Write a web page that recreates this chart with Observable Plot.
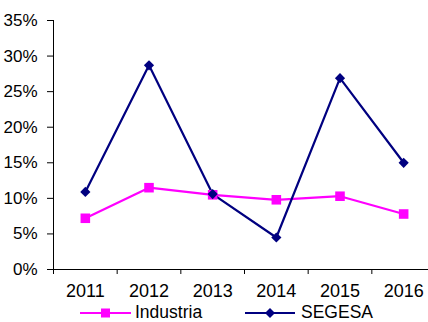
<!DOCTYPE html>
<html>
<head>
<meta charset="utf-8">
<script src="https://cdn.jsdelivr.net/npm/d3@7"></script>
<script src="https://cdn.jsdelivr.net/npm/@observablehq/plot@0.6"></script>
<style>
  html, body { margin: 0; padding: 0; background: #fff; }
  #chart { width: 428px; height: 322px; overflow: hidden; font-family: "Liberation Sans Narrow", "Liberation Sans", Arial, sans-serif; }
  #legend { display: block; }
</style>
</head>
<body>
<div id="chart"></div>
<script>
const years = [2011, 2012, 2013, 2014, 2015, 2016];
const industria = [0.072, 0.115, 0.105, 0.098, 0.103, 0.078];
const segesa = [0.109, 0.287, 0.106, 0.045, 0.269, 0.150];
const seriesNames = ["Industria", "SEGESA"];
const seriesColors = ["#FF00FF", "#000080"];
const yTicks = [0, 0.05, 0.10, 0.15, 0.20, 0.25, 0.30, 0.35];

const data = [
  ...years.map((y, i) => ({year: y, value: industria[i], series: "Industria"})),
  ...years.map((y, i) => ({year: y, value: segesa[i], series: "SEGESA"}))
];
const boundaries = years.map(y => y - 0.5);
const FONT = "Liberation Sans Narrow, Liberation Sans, Arial, sans-serif";

const chart = Plot.plot({
  width: 428,
  height: 292,
  marginLeft: 53,
  marginRight: -7,
  marginTop: 20,
  marginBottom: 23,
  style: {fontFamily: FONT, fontSize: "17px", color: "#000", background: "#fff", overflow: "visible"},
  x: {type: "linear", domain: [2010.5, 2016.5]},
  y: {domain: [0, 0.35]},
  color: {domain: seriesNames, range: seriesColors},
  marks: [
    Plot.axisY({ticks: yTicks, tickFormat: d3.format(".0%"), tickSize: 6, tickPadding: 10, label: null, fontSize: 17}),
    Plot.axisX({ticks: boundaries, tickFormat: () => "", tickSize: 5, label: null}),
    Plot.axisX({ticks: years, tickFormat: d => String(d), tickSize: 0, tickPadding: 15, label: null, fontSize: 18}),
    Plot.ruleY([0], {stroke: "#000", strokeWidth: 1}),
    Plot.ruleX([2010.5], {stroke: "#000", strokeWidth: 1}),
    Plot.line(data, {x: "year", y: "value", stroke: "series", strokeWidth: 2.2}),
    Plot.dot(data.filter(d => d.series === "Industria"), {x: "year", y: "value", symbol: "square", r: 5.4, fill: "series", stroke: null}),
    Plot.dot(data.filter(d => d.series === "SEGESA"), {x: "year", y: "value", symbol: "diamond2", r: 4.6, fill: "series", stroke: null})
  ]
});
document.getElementById("chart").appendChild(chart);

// Legend below the plot
const ns = "http://www.w3.org/2000/svg";
const leg = document.createElementNS(ns, "svg");
leg.setAttribute("id", "legend");
leg.setAttribute("width", 428);
leg.setAttribute("height", 30);
leg.style.fontFamily = FONT;
const legItems = [
  {name: seriesNames[0], color: seriesColors[0], x0: 80, x1: 131, tx: 135, shape: "square"},
  {name: seriesNames[1], color: seriesColors[1], x0: 245, x1: 295, tx: 301, shape: "diamond"}
];
const cy = 21;
legItems.forEach(it => {
  const ln = document.createElementNS(ns, "line");
  ln.setAttribute("x1", it.x0); ln.setAttribute("x2", it.x1);
  ln.setAttribute("y1", cy); ln.setAttribute("y2", cy);
  ln.setAttribute("stroke", it.color); ln.setAttribute("stroke-width", 2.2);
  leg.appendChild(ln);
  const cx = (it.x0 + it.x1) / 2;
  if (it.shape === "square") {
    const r = document.createElementNS(ns, "rect");
    r.setAttribute("x", cx - 4.5); r.setAttribute("y", cy - 4.5);
    r.setAttribute("width", 9); r.setAttribute("height", 9);
    r.setAttribute("fill", it.color);
    leg.appendChild(r);
  } else {
    const p = document.createElementNS(ns, "polygon");
    p.setAttribute("points", `${cx},${cy-5} ${cx+5},${cy} ${cx},${cy+5} ${cx-5},${cy}`);
    p.setAttribute("fill", it.color);
    leg.appendChild(p);
  }
  const t = document.createElementNS(ns, "text");
  t.setAttribute("x", it.tx); t.setAttribute("y", 26);
  t.setAttribute("font-size", 17.5); t.setAttribute("fill", "#000");
  t.textContent = it.name;
  leg.appendChild(t);
});
document.getElementById("chart").appendChild(leg);
</script>
</body>
</html>
